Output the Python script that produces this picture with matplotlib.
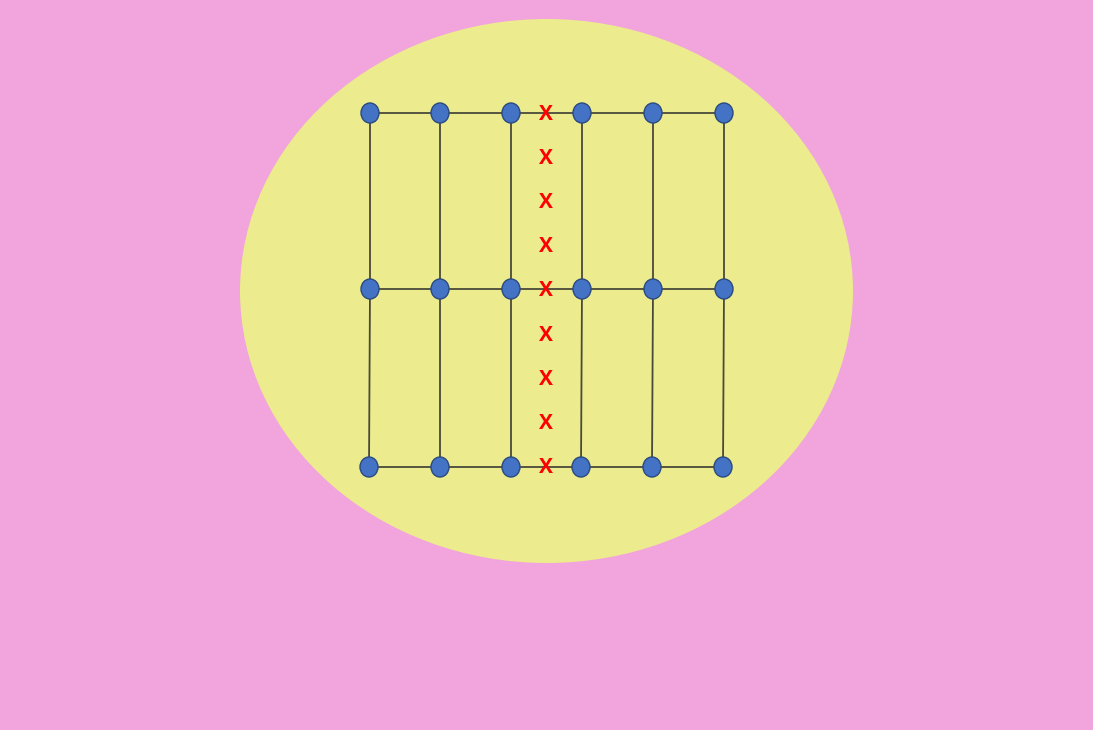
import matplotlib
matplotlib.use("Agg")
import matplotlib.pyplot as plt
from matplotlib.patches import Ellipse

# Data (diagram coordinates, pixel units of the original picture)
col_x_top = [370, 440, 511, 582, 653, 724]
col_x_bot = [369, 440, 511, 581, 652, 723]
row_y = [113, 289, 467]
cross_x = 546
cross_y = [113, 157, 201, 245, 289, 334, 378, 422, 466]
cross_label = "X"

fig = plt.figure(figsize=(10.93, 7.30), dpi=100)
fig.patch.set_facecolor("#F2A4DC")
ax = fig.add_axes([0, 0, 1, 1])
ax.set_xlim(0, 1093)
ax.set_ylim(730, 0)
ax.set_facecolor("#F2A4DC")
ax.axis("off")

ax.add_patch(Ellipse((546.5, 291), 613, 544, facecolor="#ECEB8E", edgecolor="none", zorder=1))

line_kw = dict(color="#4A4A3A", lw=1.3, zorder=2)
# horizontal lines
for i, y in enumerate(row_y):
    xs = col_x_bot if i == 2 else col_x_top
    ax.plot([xs[0], xs[-1]], [y, y], **line_kw)
# vertical lines
for j in range(len(col_x_top)):
    ax.plot([col_x_top[j], col_x_top[j], col_x_bot[j]], [row_y[0], row_y[1], row_y[2]], **line_kw)

# dots
for i, y in enumerate(row_y):
    xs = col_x_bot if i == 2 else col_x_top
    for x in xs:
        ax.add_patch(Ellipse((x, y), 18, 20, facecolor="#4472C4", edgecolor="#2A4A80", lw=1.0, zorder=3))

# crosses
for y in cross_y:
    ax.text(cross_x, y + 1.5, cross_label, color="#FF0000", fontsize=15, fontweight="bold",
            family="Open Sans", ha="center", va="center", zorder=4,
            transform=ax.transData)

fig.savefig("out.png", dpi=100, facecolor=fig.get_facecolor())
